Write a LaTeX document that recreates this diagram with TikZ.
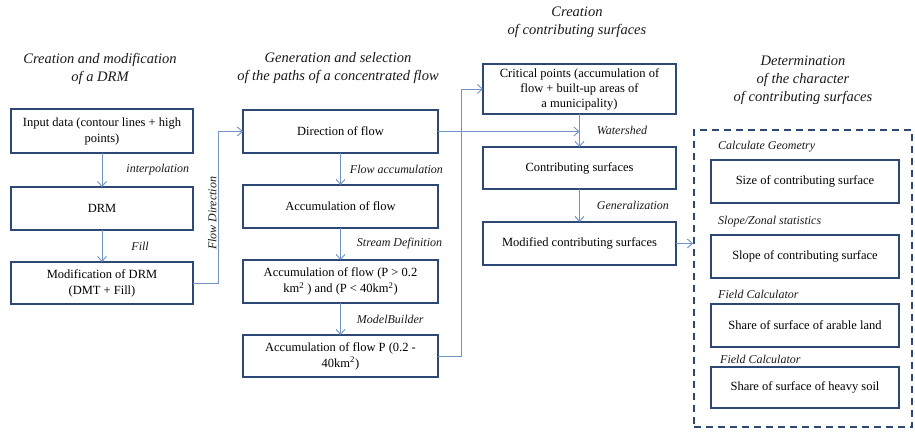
\documentclass[tikz,border=0pt]{standalone}
\usepackage{fontspec}
\setmainfont{Liberation Serif}
\usetikzlibrary{arrows.meta,positioning,calc}
\definecolor{navy}{RGB}{46,72,118}
\definecolor{pale}{RGB}{112,146,196}
\definecolor{ink}{RGB}{25,25,25}
\tikzset{bx/.style={draw=navy,line width=2pt,minimum width=#1,minimum height=43pt,align=center,font=\fontsize{12.5}{16}\selectfont,inner sep=2pt,outer sep=0pt},bx/.default=195pt,flow/.style={-{Straight Barb[length=5pt,width=9pt]},line width=0.9pt,draw=pale},tag/.style={font=\fontsize{12}{14}\selectfont\itshape,text=ink,inner sep=1pt},head/.style={font=\fontsize{14.5}{18}\selectfont\itshape,text=ink,align=center},grp/.style={draw=navy,line width=2pt,dash pattern=on 7pt off 5pt,minimum width=218pt,minimum height=297pt}}
\begin{document}
\begin{tikzpicture}[x=1pt,y=-1pt,node distance=32pt]
\useasboundingbox (0,0) rectangle (915,431);
% column headings
\node[head] (h1) at (100,69) {Creation and modification\\of a DRM};
\node[head] (h2) at (338,68) {Generation and selection\\of the paths of a concentrated flow};
\node[head] (h3) at (577,22) {Creation\\of contributing surfaces};
\node[head] (h4) at (803,80) {Determination\\of the character\\of contributing surfaces};
% DRM
\node[bx=182pt,minimum height=44pt] (inp) at (102,131) {Input data (contour lines + high\\points)};
\node[bx=182pt,below=34pt of inp] (drm) {DRM};
\node[bx=182pt,minimum height=42pt,below=of drm] (mdrm) {Modification of DRM\\(DMT + Fill)};
% paths of flow
\node[bx] (dir) at (340.5,131.5) {Direction of flow};
\node[bx,below=of dir] (acc) {Accumulation of flow};
\node[bx,below=of acc] (accp) {Accumulation of flow (P > 0.2\\km\textsuperscript{2} ) and (P < 40km\textsuperscript{2})};
\node[bx,minimum height=42pt,below=of accp] (accs) {Accumulation of flow P (0.2 -\\40km\textsuperscript{2})};
% contributing surfaces
\node[bx=193pt,minimum height=50pt,font=\fontsize{12.5}{15}\selectfont] (crit) at (579.5,89) {Critical points (accumulation of\\flow + built-up areas of\\a municipality)};
\node[bx=193pt,minimum height=42pt,below=33pt of crit] (surf) {Contributing surfaces};
\node[bx=193pt,below=33pt of surf] (msurf) {Modified contributing surfaces};
% character of surfaces
\node[grp] (grp) at (803,278.5) {};
\node[bx=188pt] (size) at (805,181) {Size of contributing surface};
\node[bx=188pt,below=of size] (slope) {Slope of contributing surface};
\node[bx=188pt,below=26pt of slope] (arab) {Share of surface of arable land};
\node[bx=188pt,minimum height=41pt,below=20pt of arab] (soil) {Share of surface of heavy soil};
\node[tag,above right=6pt and 6pt of size.north west] (t1) {Calculate Geometry};
\node[tag,above right=6pt and 6pt of slope.north west] (t2) {Slope/Zonal statistics};
\node[tag,above right=4pt and 6pt of arab.north west] (t3) {Field Calculator};
\node[tag,above right=2pt and 8pt of soil.north west] (t4) {Field Calculator};
% connectors
\draw[flow] (inp)--node[tag,right=23pt]{interpolation}(drm);\draw[flow] (drm)--node[tag,right=28pt]{Fill}(mdrm);
\draw[flow] (mdrm.east)--++(25,0)|-node[tag,rotate=90,anchor=south,pos=0.23]{Flow Direction}(dir.west);
\draw[flow] (dir)--node[tag,right=8pt]{Flow accumulation}(acc);\draw[flow] (acc)--node[tag,right=15pt]{Stream Definition}(accp);
\draw[flow] (accp)--node[tag,right=15pt]{ModelBuilder}(accs);
\draw[flow] (accs.east)--++(23,0)|-(crit.west);
\coordinate (ws) at (crit.south |- dir.east);
\draw[flow] (dir.east)--(ws);
\draw[flow] (crit)--node[tag,right=16pt]{Watershed}(surf);\draw[flow] (surf)--node[tag,right=16pt]{Generalization}(msurf);
\draw[flow] (msurf.east)--(msurf.east -| grp.west);
\end{tikzpicture}
\end{document}
